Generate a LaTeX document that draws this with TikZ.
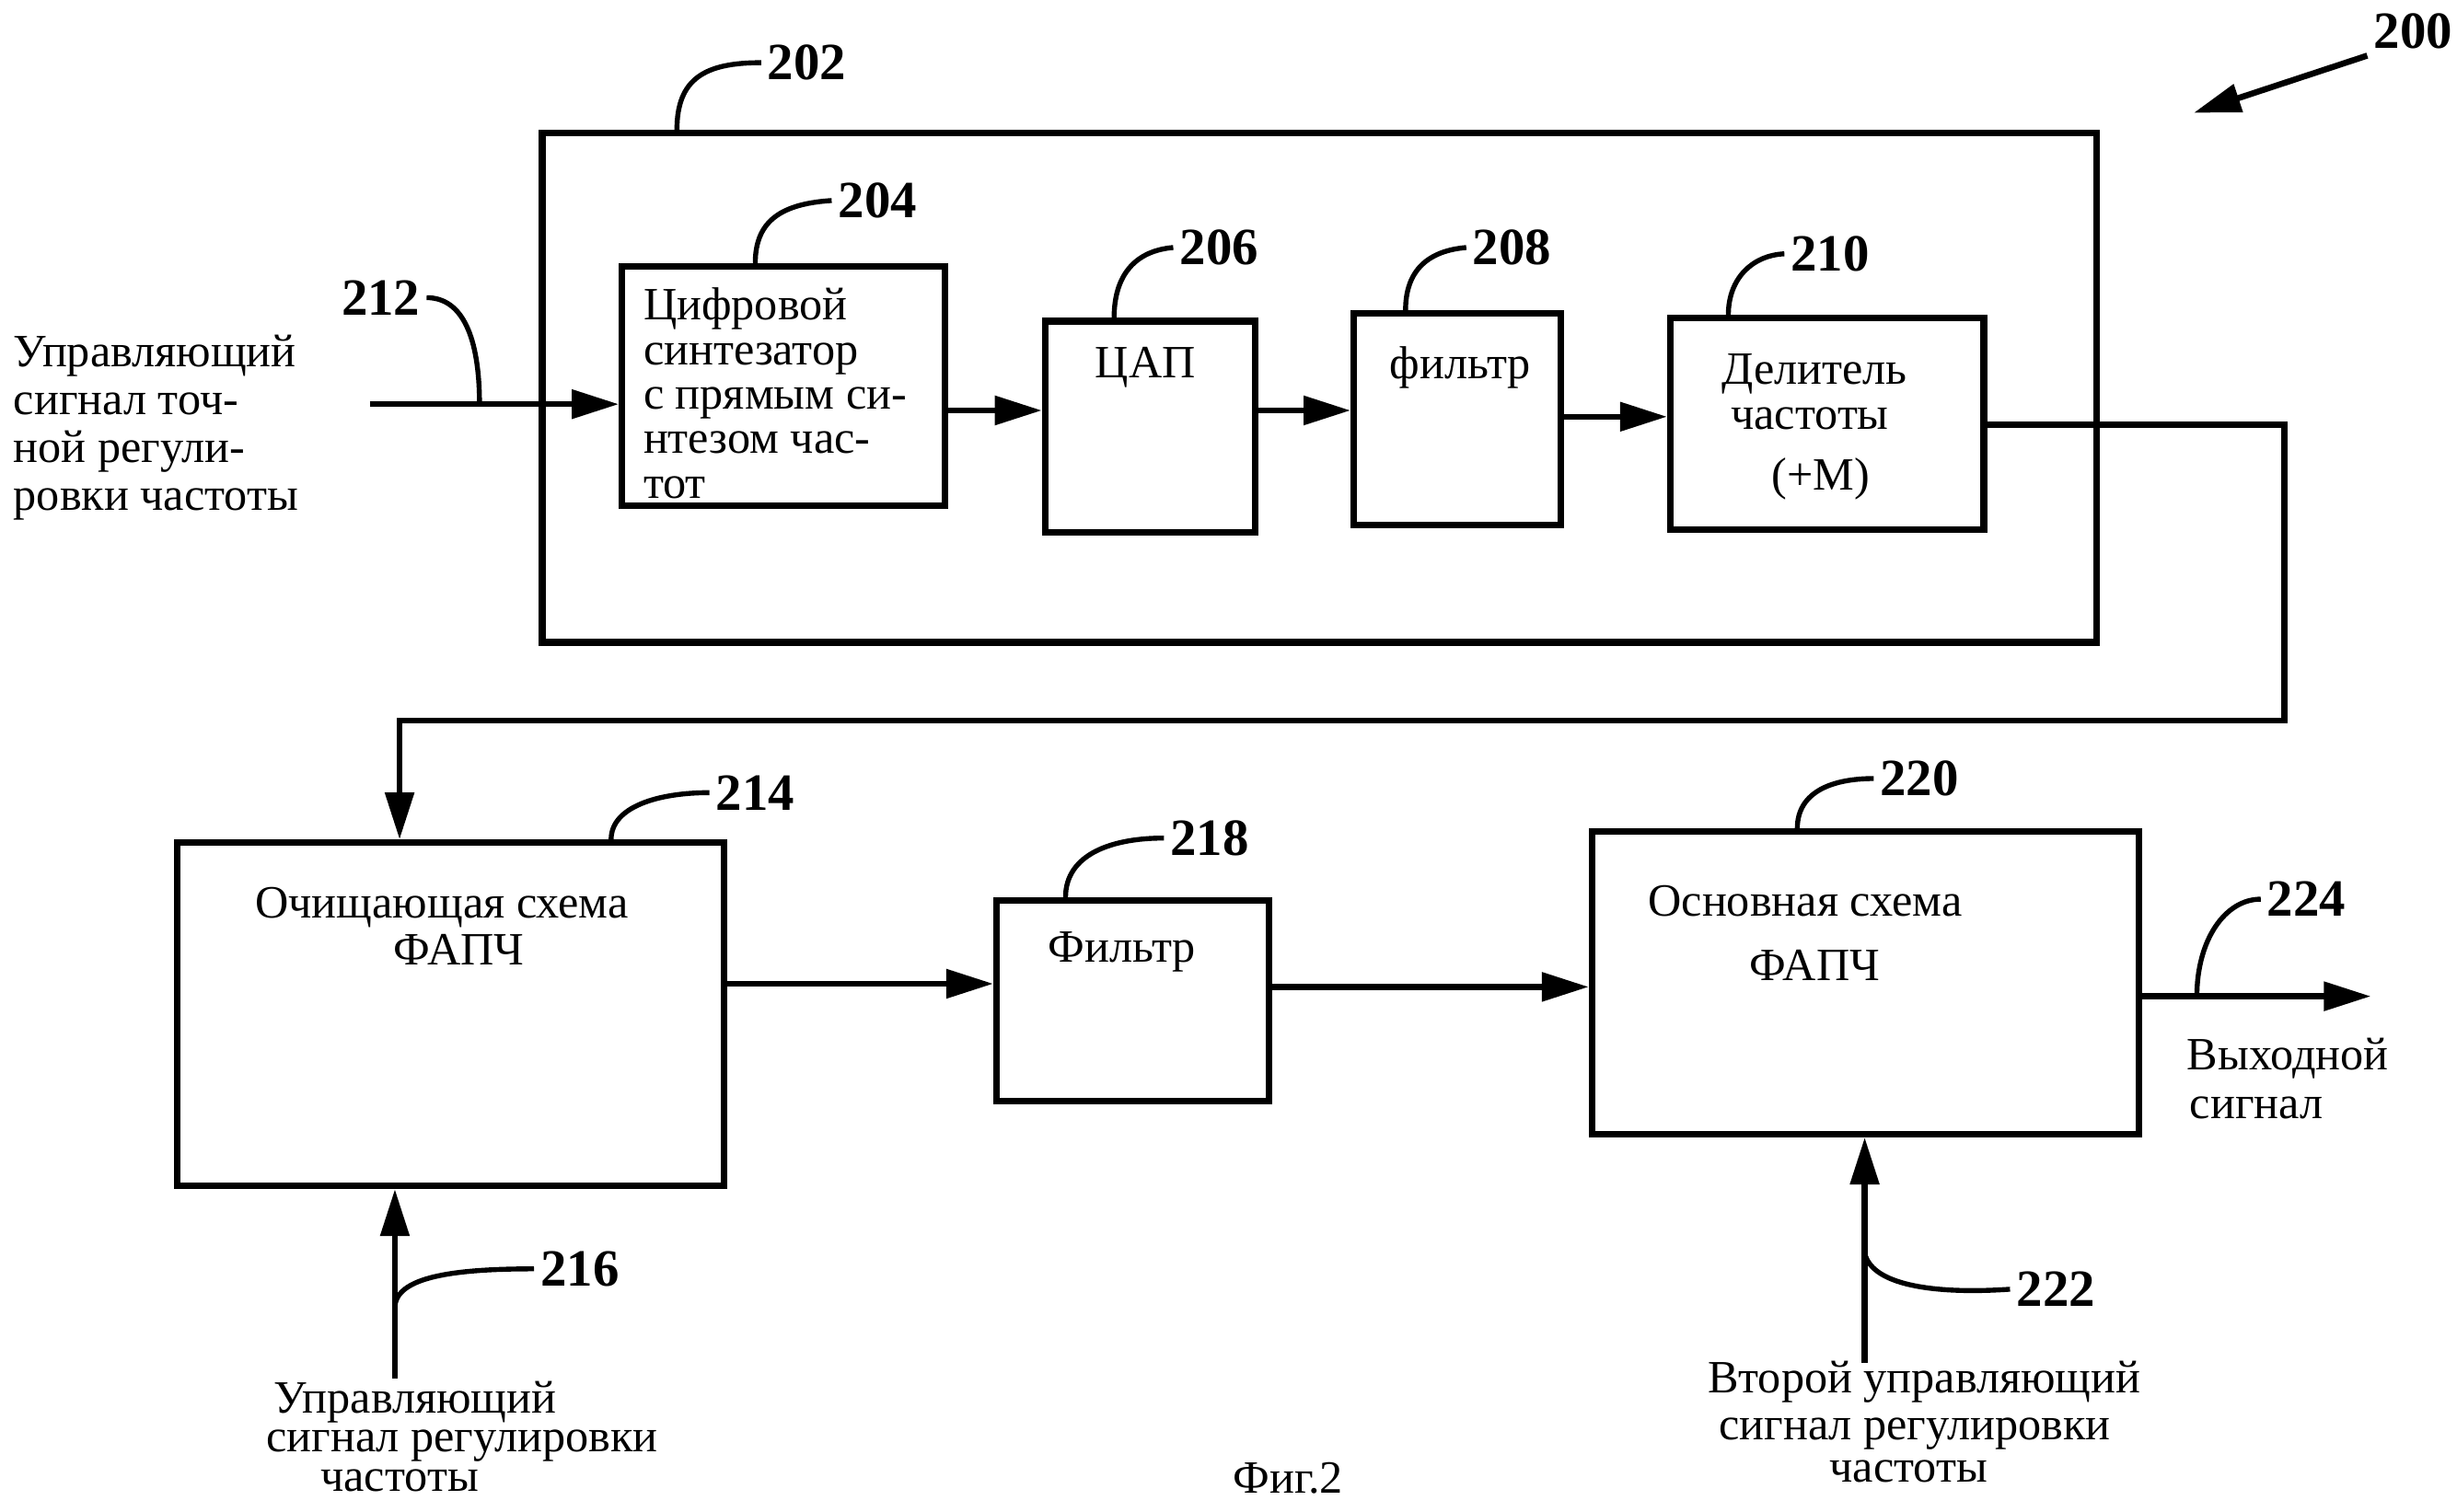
\documentclass[tikz,border=0pt]{standalone}
\usepackage{fontspec}
\setmainfont{Liberation Serif}
\usetikzlibrary{arrows.meta}

\begin{document}
\begin{tikzpicture}[x=0.1mm,y=-0.1mm,
  blk/.style={draw,line width=1.2pt,inner sep=0pt},
  txt/.style={font=\fontsize{8.4}{8.7}\selectfont,inner sep=0pt},
  num/.style={font=\fontsize{9.5}{10}\selectfont\bfseries,inner sep=1pt},
  sig/.style={line width=1.1pt,-{Triangle[length=3mm,width=1.8mm]}},
  lead/.style={line width=0.9pt}]
\useasboundingbox (0,0) rectangle (1568,965);

% blocks
\node[blk,minimum width=99.2mm,minimum height=32.5mm] (frame) at (842,247.5) {};
\node[blk,minimum width=20.6mm,minimum height=15.3mm] (dds) at (500,246.5) {};
\node[blk,minimum width=13.4mm,minimum height=13.5mm] (dac) at (734,272.5) {};
\node[blk,minimum width=13.2mm,minimum height=13.5mm] (flt) at (930,267.5) {};
\node[blk,minimum width=20mm,minimum height=13.5mm] (div) at (1166,270.5) {};
\node[blk,minimum width=34.9mm,minimum height=21.9mm] (cln) at (287.5,647.5) {};
\node[blk,minimum width=17.4mm,minimum height=12.8mm] (lpf) at (723,639) {};
\node[blk,minimum width=34.9mm,minimum height=19.3mm] (mpll) at (1190.5,627.5) {};

% texts in blocks
\node[txt,anchor=north west,align=left,font=\fontsize{8.4}{8.1}\selectfont] (ddstext) at (410,183)
  {Цифровой\\ синтезатор\\ с прямым си-\\ нтезом час-\\ тот};
\node[txt,anchor=base] (dactext) at (731,241) {ЦАП};
\node[txt,anchor=base] (flttext) at (932,242) {фильтр};
\node[txt,anchor=base] (divtexta) at (1158,245) {Делитель};
\node[txt,anchor=base] (divtextb) at (1155,274) {частоты};
\node[txt,anchor=base] (divtextc) at (1162,313) {(+M)};
\node[txt,anchor=base] (clntexta) at (282,586) {Очищающая схема};
\node[txt,anchor=base] (clntextb) at (293,616) {ФАПЧ};
\node[txt,anchor=base] (lpftext) at (716,614) {Фильтр};
\node[txt,anchor=base] (mplltexta) at (1152,585) {Основная схема};
\node[txt,anchor=base] (mplltextb) at (1158,626) {ФАПЧ};

% outer texts
\node[txt,anchor=north west,align=left] (intext) at (8,213)
  {Управляющий\\ сигнал точ-\\ ной регули-\\ ровки частоты};
\node[txt,anchor=base] (outtexta) at (1460,683) {Выходной};
\node[txt,anchor=base] (outtextb) at (1440,714) {сигнал};
\node[txt,anchor=base] (ctltexta) at (265,902) {Управляющий};
\node[txt,anchor=base] (ctltextb) at (295,927) {сигнал регулировки};
\node[txt,anchor=base] (ctltextc) at (255,952) {частоты};
\node[txt,anchor=base] (sectexta) at (1228,889) {Второй управляющий};
\node[txt,anchor=base] (sectextb) at (1222,919) {сигнал регулировки};
\node[txt,anchor=base] (sectextc) at (1218,946) {частоты};
\node[txt,anchor=base] (figtext) at (822,953) {Фиг.2};

% numbers
\node[num] (n200) at (1540,20) {200};
\node[num] (n202) at (515,40) {202};
\node[num] (n204) at (560,128) {204};
\node[num] (n206) at (778,158) {206};
\node[num] (n208) at (965,158) {208};
\node[num] (n210) at (1168,162) {210};
\node[num] (n212) at (243,190) {212};
\node[num] (n214) at (482,506) {214};
\node[num] (n216) at (370,810) {216};
\node[num] (n218) at (772,535) {218};
\node[num] (n220) at (1225,497) {220};
\node[num] (n222) at (1312,823) {222};
\node[num] (n224) at (1472,574) {224};

% signals
\coordinate (in) at (236,258);
\coordinate (out) at (1513,636);
\coordinate (in216) at (252,880);
\coordinate (in222) at (1190,870);
\coordinate (c200) at (1400,72);
\draw[sig] (n200.south west) -- (c200);
\draw[sig] (in) -- (dds.west |- 0,258);
\draw[sig] (dds.east |- 0,262) -- (dac.west |- 0,262);
\draw[sig] (dac.east |- 0,262) -- (flt.west |- 0,262);
\draw[sig] (flt.east |- 0,266) -- (div.west |- 0,266);
\draw[sig] (div.east |- 0,271) -| (1458,460) -| (cln.north -| 255,0);
\draw[sig] (cln.east |- 0,628) -- (lpf.west |- 0,628);
\draw[sig] (lpf.east |- 0,630) -- (mpll.west |- 0,630);
\draw[sig] (mpll.east |- 0,636) -- (out);
\draw[sig] (in216) -- (cln.south -| in216);
\draw[sig] (in222) -- (mpll.south -| in222);

% leaders
\draw[lead] (frame.north -| 432,0) .. controls (432,50) and (450,40) .. (n202.west);
\draw[lead] (dds.north -| 482,0) .. controls (482,140) and (500,130) .. (n204.west);
\draw[lead] (dac.north -| 711,0) .. controls (711,175) and (725,160) .. (n206.west);
\draw[lead] (flt.north -| 897,0) .. controls (897,172) and (912,160) .. (n208.west);
\draw[lead] (div.north -| 1103,0) .. controls (1103,178) and (1118,163) .. (n210.west);
\draw[lead] (306,258) .. controls (306,215) and (295,190) .. (n212.east);
\draw[lead] (cln.north -| 390,0) .. controls (390,515) and (420,506) .. (n214.west);
\draw[lead] (252,835) .. controls (252,815) and (290,810) .. (n216.west);
\draw[lead] (lpf.north -| 680,0) .. controls (680,545) and (710,535) .. (n218.west);
\draw[lead] (mpll.north -| 1147,0) .. controls (1147,505) and (1170,497) .. (n220.west);
\draw[lead] (1190,800) .. controls (1195,822) and (1240,826) .. (n222.west);
\draw[lead] (1402,636) .. controls (1402,600) and (1420,574) .. (n224.west);
\end{tikzpicture}
\end{document}
